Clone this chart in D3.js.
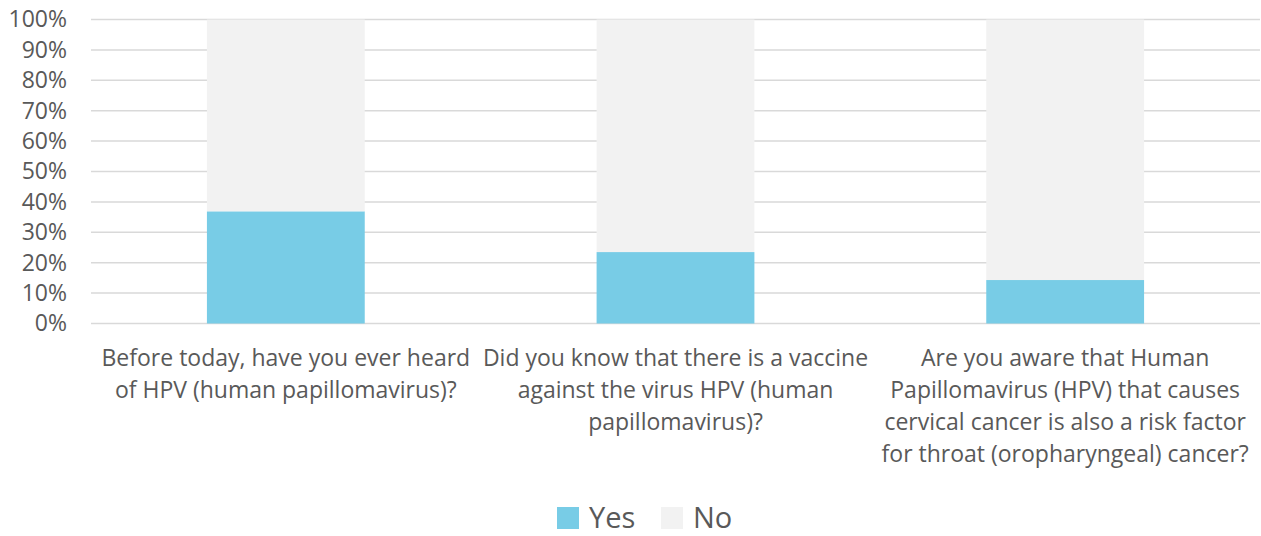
<!DOCTYPE html>
<html>
<head>
<meta charset="utf-8">
<script src="https://cdn.jsdelivr.net/npm/d3@7"></script>
<style>
  html, body { margin: 0; padding: 0; background: #fff; }
  #chart { width: 1261px; height: 536px; }
  text { font-family: "Open Sans", "Noto Sans", sans-serif; fill: #595959; }
</style>
</head>
<body>
<div id="chart"></div>
<script>
// categories, one entry per line as in the original wrapped labels
const categories = [
    ["Before today, have you ever heard", "of HPV (human papillomavirus)?"],
    ["Did you know that there is a vaccine", "against the virus HPV (human", "papillomavirus)?"],
    ["Are you aware that Human", "Papillomavirus (HPV) that causes", "cervical cancer is also a risk factor", "for throat (oropharyngeal) cancer?"]
];
const yesValues = [0.369, 0.235, 0.143];
const noValues = [0.631, 0.765, 0.857];
const seriesNames = ["Yes", "No"];
const seriesColors = ["#78cce6", "#f2f2f2"];
const yTicks = [0, 0.1, 0.2, 0.3, 0.4, 0.5, 0.6, 0.7, 0.8, 0.9, 1.0];

const width = 1261, height = 536;
const margin = { top: 19.5, right: 1, bottom: 212.5, left: 91 };

const svg = d3.select("#chart").append("svg")
    .attr("width", width)
    .attr("height", height);

const keys = categories.map((c, i) => i);
const x = d3.scaleBand()
    .domain(keys)
    .range([margin.left, width - margin.right])
    .paddingInner(0.595)
    .paddingOuter(0.2975);

const y = d3.scaleLinear()
    .domain([0, 1])
    .range([height - margin.bottom, margin.top]);

// gridlines
svg.append("g")
    .selectAll("line")
    .data(yTicks)
    .join("line")
    .attr("x1", margin.left)
    .attr("x2", width - margin.right)
    .attr("y1", d => y(d))
    .attr("y2", d => y(d))
    .attr("stroke", "#d9d9d9")
    .attr("stroke-width", 1.5);

// y axis labels
const yAxis = svg.append("g")
    .attr("transform", `translate(${margin.left},0)`)
    .call(d3.axisLeft(y).tickValues(yTicks).tickFormat(d3.format(".0%")).tickSize(0).tickPadding(24));
yAxis.select(".domain").remove();
yAxis.selectAll("text")
    .style("font-size", "23px")
    .attr("fill", "#595959");

// stacked bars
const rows = keys.map(i => ({ i, Yes: yesValues[i], No: noValues[i] }));
const stack = d3.stack().keys(seriesNames)(rows);

svg.append("g")
    .selectAll("g")
    .data(stack)
    .join("g")
    .attr("fill", (d, i) => seriesColors[i])
    .selectAll("rect")
    .data(d => d)
    .join("rect")
    .attr("x", d => x(d.data.i))
    .attr("width", x.bandwidth())
    .attr("y", d => y(d[1]))
    .attr("height", d => y(d[0]) - y(d[1]));

// category labels
const labels = svg.append("g");
categories.forEach((lines, i) => {
    const t = labels.append("text")
        .attr("text-anchor", "middle")
        .style("font-size", "23px");
    lines.forEach((line, j) => {
        t.append("tspan")
            .attr("x", x(i) + x.bandwidth() / 2)
            .attr("y", 366 + j * 32)
            .text(line);
    });
});

// legend
const legend = svg.append("g")
    .attr("transform", "translate(557,507)");
const legendX = [0, 104];
seriesNames.forEach((name, i) => {
    legend.append("rect")
        .attr("x", legendX[i])
        .attr("y", 0)
        .attr("width", 22)
        .attr("height", 22)
        .attr("fill", seriesColors[i]);
    legend.append("text")
        .attr("x", legendX[i] + 32)
        .attr("y", 21)
        .style("font-size", "29px")
        .text(name);
});
</script>
</body>
</html>
